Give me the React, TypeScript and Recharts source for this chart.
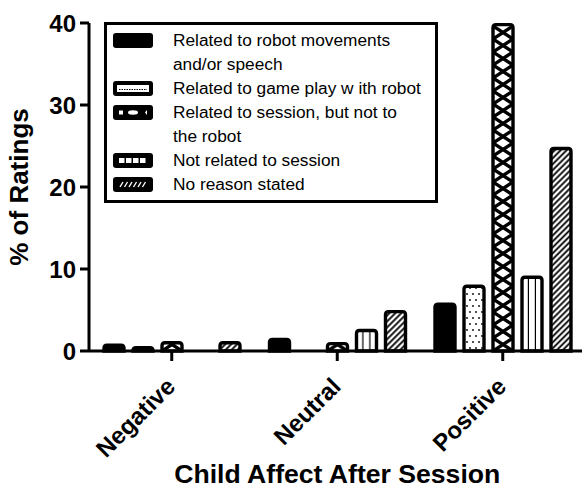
import React from 'react';
import { BarChart, Bar, XAxis, YAxis, Legend, Label } from 'recharts';

const categories = ['Negative', 'Neutral', 'Positive'];
const robotMovements = [0.7, 1.4, 5.7];
const gamePlay = [0.4, 0, 7.9];
const sessionNotRobot = [1.0, 0.9, 39.8];
const notRelated = [0, 2.5, 9.0];
const noReason = [1.0, 4.8, 24.7];
const yTicks = [0, 10, 20, 30, 40];

const seriesNames = [
  ['Related to robot movements', 'and/or speech'],
  ['Related to game play w ith robot'],
  ['Related to session, but not to', 'the robot'],
  ['Not related to session'],
  ['No reason stated'],
];

const data = categories.map((c, i) => ({
  category: c,
  robot: robotMovements[i],
  game: gamePlay[i],
  session: sessionNotRobot[i],
  notRelated: notRelated[i],
  noReason: noReason[i],
}));

const FONT = '"Liberation Sans", Arial, Helvetica, sans-serif';

function PatternBar(props: any) {
  const { x, y, width, height, kind, index } = props;
  if (!height || height <= 0.01) return null;
  const r = Math.min(3, height);
  const d = `M${x},${y + height} L${x},${y + r} Q${x},${y} ${x + r},${y} L${x + width - r},${y} Q${x + width},${y} ${x + width},${y + r} L${x + width},${y + height} Z`;
  const id = `pat-${kind}-${index}`;
  let defs: any = null;
  let fill = '#000';
  if (kind === 'dots') {
    defs = (
      <pattern id={id} patternUnits="userSpaceOnUse" x={x} y={y + height} width={6} height={12}>
        <rect width={6} height={12} fill="#fff" />
        <circle cx={3} cy={3} r={0.9} fill="#000" />
        <circle cx={0} cy={9} r={0.9} fill="#000" />
        <circle cx={6} cy={9} r={0.9} fill="#000" />
      </pattern>
    );
  } else if (kind === 'cross') {
    defs = (
      <pattern id={id} patternUnits="userSpaceOnUse" x={x} y={y + height} width={width} height={13}>
        <rect width={width} height={13} fill="#fff" />
        <line x1={0} y1={0} x2={width} y2={13} stroke="#000" strokeWidth={3.4} />
        <line x1={width} y1={0} x2={0} y2={13} stroke="#000" strokeWidth={3.4} />
      </pattern>
    );
  } else if (kind === 'vert') {
    defs = (
      <pattern id={id} patternUnits="userSpaceOnUse" x={x} y={y + height} width={7} height={10}>
        <rect width={7} height={10} fill="#fff" />
        <rect x={5.8} y={0} width={2} height={10} fill="#000" />
      </pattern>
    );
  } else if (kind === 'hatch') {
    defs = (
      <pattern id={id} patternUnits="userSpaceOnUse" x={x} y={y + height} width={4.2} height={4.2} patternTransform="rotate(45)">
        <rect width={4.2} height={4.2} fill="#fff" />
        <rect x={1.2} y={0} width={1.8} height={4.2} fill="#000" />
      </pattern>
    );
  }
  if (defs) fill = `url(#${id})`;
  return (
    <g>
      {defs && <defs>{defs}</defs>}
      <path d={d} fill={fill} stroke="#000" strokeWidth={3.4} />
    </g>
  );
}

function Swatch({ kind }: { kind: string }) {
  const inner: any[] = [];
  if (kind === 'dots') {
    inner.push(<rect key="w" x={4} y={4} width={32} height={7} fill="#fff" />);
    inner.push(<line key="l" x1={6} x2={34} y1={8.5} y2={8.5} stroke="#000" strokeWidth={1} strokeDasharray="1.5 1" />);
  } else if (kind === 'cross') {
    inner.push(<rect key="a" x={6} y={5.5} width={4} height={4} fill="#fff" />);
    inner.push(<ellipse key="b" cx={20} cy={7.5} rx={5} ry={2.2} fill="#fff" />);
    inner.push(<polygon key="c" points="34,5 34,10 32,7.5" fill="#fff" />);
  } else if (kind === 'vert') {
    [6, 13, 20, 27].forEach((vx) => inner.push(<rect key={vx} x={vx} y={5} width={5.5} height={5} fill="#fff" />));
  } else if (kind === 'hatch') {
    [7, 11.5, 16, 20.5, 25, 29.5].forEach((vx) => inner.push(<line key={vx} x1={vx} y1={10} x2={vx + 3} y2={5} stroke="#fff" strokeWidth={1.4} />));
  }
  return (
    <svg width={40} height={15} style={{ display: 'block' }}>
      <rect x={0} y={0} width={40} height={15} rx={3} fill="#000" />
      {inner}
    </svg>
  );
}

const kinds = ['solid', 'dots', 'cross', 'vert', 'hatch'];

function LegendBox() {
  let line = 0;
  const items: any[] = [];
  seriesNames.forEach((lines, i) => {
    const top = 15 + line * 24;
    items.push(
      <div key={'s' + i} style={{ position: 'absolute', left: 6, top: top - 7.5 }}>
        <Swatch kind={kinds[i]} />
      </div>
    );
    lines.forEach((t, j) => {
      items.push(
        <div
          key={'t' + i + '-' + j}
          style={{ position: 'absolute', left: 66, top: top + j * 24 - 12, height: 24, lineHeight: '24px', fontSize: 17.3, whiteSpace: 'nowrap', color: '#000', fontFamily: FONT }}
        >
          {t}
        </div>
      );
    });
    line += lines.length;
  });
  return (
    <div style={{ position: 'relative', width: 334, height: 181, boxSizing: 'border-box', border: '3.5px solid #000', background: '#fff' }}>
      {items}
    </div>
  );
}

function XTick(props: any) {
  const { x, y, payload } = props;
  return (
    <text
      x={x + 5}
      y={y + 25}
      transform={`rotate(-45, ${x + 5}, ${y + 25})`}
      textAnchor="end"
      fontSize={24}
      fontWeight="bold"
      fontFamily={FONT}
      fill="#000"
    >
      {payload.value}
    </text>
  );
}

function YLabel(props: any) {
  const vb = props.viewBox || { x: 0, y: 0, width: 0, height: 0 };
  const cx = vb.x + 28;
  const cy = vb.y + vb.height / 2;
  return (
    <text x={cx} y={cy} transform={`rotate(-90, ${cx}, ${cy})`} textAnchor="middle" fontSize={26} fontWeight="bold" fontFamily={FONT} fill="#000">
      % of Ratings
    </text>
  );
}

function XLabel(props: any) {
  const vb = props.viewBox || { x: 0, y: 0, width: 0, height: 0 };
  return (
    <text x={vb.x + vb.width / 2} y={483} textAnchor="middle" fontSize={26.6} fontWeight="bold" fontFamily={FONT} fill="#000">
      Child Affect After Session
    </text>
  );
}

export default function App() {
  return (
    <div style={{ position: 'fixed', left: 0, top: 0, width: 582, height: 489, overflow: 'hidden', background: '#fff', fontFamily: FONT }}>
      <BarChart width={600} height={489} data={data} margin={{ top: 23, right: 14.5, left: 0, bottom: 0 }} barSize={20} barGap={9}>
        <XAxis
          dataKey="category"
          height={138}
          interval={0}
          tickSize={10}
          tickMargin={2}
          axisLine={{ stroke: '#000', strokeWidth: 3 }}
          tickLine={{ stroke: '#000', strokeWidth: 3 }}
          tick={<XTick />}
        >
          <Label content={<XLabel />} />
        </XAxis>
        <YAxis
          width={89}
          domain={[0, 40]}
          ticks={yTicks}
          interval={0}
          tickSize={9}
          tickMargin={4}
          axisLine={{ stroke: '#000', strokeWidth: 3 }}
          tickLine={{ stroke: '#000', strokeWidth: 3 }}
          tick={{ fontSize: 24, fontWeight: 'bold', fill: '#000', fontFamily: FONT }}
        >
          <Label content={<YLabel />} />
        </YAxis>
        <Legend
          layout="vertical"
          align="center"
          verticalAlign="middle"
          wrapperStyle={{ left: 104, top: 22, width: 334, height: 181 }}
          content={() => <LegendBox />}
        />
        <Bar dataKey="robot" name={seriesNames[0].join(' ')} fill="#000" isAnimationActive={false} shape={(p: any) => <PatternBar {...p} kind="solid" />} />
        <Bar dataKey="game" name={seriesNames[1].join(' ')} fill="#fff" isAnimationActive={false} shape={(p: any) => <PatternBar {...p} kind="dots" />} />
        <Bar dataKey="session" name={seriesNames[2].join(' ')} fill="#fff" isAnimationActive={false} shape={(p: any) => <PatternBar {...p} kind="cross" />} />
        <Bar dataKey="notRelated" name={seriesNames[3].join(' ')} fill="#fff" isAnimationActive={false} shape={(p: any) => <PatternBar {...p} kind="vert" />} />
        <Bar dataKey="noReason" name={seriesNames[4].join(' ')} fill="#fff" isAnimationActive={false} shape={(p: any) => <PatternBar {...p} kind="hatch" />} />
      </BarChart>
    </div>
  );
}
